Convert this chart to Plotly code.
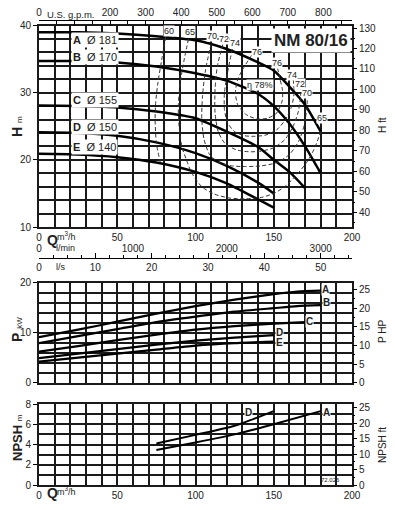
import plotly.graph_objects as go

# ---------------- data ----------------
# Head curves (Q in m3/h, H in m)
Q_AB = [0, 25, 50, 75, 100, 120, 140, 150, 160, 170, 180]
H_A = [39.0, 39.0, 38.8, 38.4, 37.8, 36.5, 34.5, 33.3, 30.9, 28.2, 24.2]
H_B = [34.7, 34.7, 34.5, 33.9, 32.9, 31.8, 29.8, 28.0, 25.4, 22.0, 18.0]
Q_C = [0, 25, 50, 75, 100, 120, 140, 150, 160, 170]
H_C = [28.1, 28.0, 27.8, 27.2, 26.2, 24.2, 21.9, 20.0, 18.2, 15.8]
Q_DE = [0, 25, 50, 75, 100, 120, 140, 150]
H_D = [24.1, 24.0, 23.6, 22.6, 21.0, 19.1, 16.6, 15.0]
H_E = [20.9, 20.8, 20.4, 19.6, 18.2, 16.5, 14.1, 12.9]

IMPELLERS = ["A", "B", "C", "D", "E"]
DIAMETERS = ["181", "170", "155", "150", "140"]

# Efficiency iso-lines (Q m3/h, H m)
ETA60_Q = [81, 78.5, 76, 74.5, 74.2, 75, 77.5]
ETA60_H = [38.3, 35, 31.5, 28.4, 25.9, 22.5, 19.6]
ETA65_Q = [95.5, 92, 90, 89, 89.5, 91.3, 94.5, 97.7, 104, 112, 122, 132, 142, 150, 157, 164, 171, 176, 180]
ETA65_H = [38.0, 34, 31, 28, 25, 22, 19.8, 18.0, 16.0, 14.9, 14.3, 14.2, 14.4, 15.0, 16.0, 17.6, 19.6, 21.7, 24.2]
ETA70_Q = [110, 106.5, 104.5, 104, 105.5, 109, 115, 123, 132, 142, 152, 160, 166, 169.5, 171, 171.5]
ETA70_H = [37.3, 33.5, 29.6, 26, 23, 20.8, 19.6, 19.1, 19.0, 19.1, 19.6, 20.8, 22.8, 25.2, 27.5, 29.2]
ETA72_Q = [117.5, 114, 112.5, 112.5, 114.5, 119, 126, 134, 142, 150, 157, 162, 165.5, 167, 167.5]
ETA72_H = [37.2, 34, 30.5, 27, 24.2, 22.4, 21.5, 21.2, 21.3, 21.8, 23, 24.8, 27, 29, 30.6]
ETA74_Q = [123.5, 120.5, 118.5, 118.5, 120.5, 125, 131, 138, 145, 152, 157.5, 161.5, 163, 162.5]
ETA74_H = [36.5, 33, 30, 27.5, 25.5, 24.2, 23.6, 23.5, 23.7, 24.5, 26, 28, 30, 31.9]
ETA76_Q = [136, 131, 127, 125.5, 127, 132, 139, 146, 152, 155.5, 155.5, 154, 152.5]
ETA76_H = [35.6, 33.8, 32, 30, 28.2, 26.8, 26.1, 26.2, 27, 28.9, 30.5, 32, 33.6]
ETA78_Q = [139.5, 139.5]
ETA78_H = [30.6, 29.2]

# Power curves (kW)
Q_P_AB = [0, 25, 50, 75, 100, 125, 150, 165, 180]
P_A = [9.1, 10.6, 12.2, 13.8, 15.3, 16.6, 17.7, 18.2, 18.4]
P_B = [7.9, 9.3, 10.7, 12.1, 13.2, 14.2, 14.9, 15.3, 15.5]
Q_P_C = [0, 25, 50, 75, 100, 125, 150, 170]
P_C = [6.2, 7.3, 8.5, 9.6, 10.6, 11.3, 11.8, 12.1]
Q_P_DE = [0, 25, 50, 75, 100, 125, 150]
P_D = [4.9, 5.8, 6.7, 7.6, 8.4, 9.0, 9.5]
P_E = [4.2, 5.0, 5.8, 6.6, 7.4, 7.9, 8.2]

# NPSH curves (m)
Q_N_A = [75, 100, 125, 150, 180]
N_A = [3.45, 4.2, 5.0, 6.0, 7.3]
Q_N_D = [75, 100, 125, 150]
N_D = [4.1, 4.95, 5.85, 7.3]

# unit conversions
M_TO_FT = 3.28084
KW_TO_HP = 1.34102
M3H_TO_GPM = 4.402868
M3H_TO_LMIN = 1000 / 60
M3H_TO_LS = 1 / 3.6
Q_MAX = 200

# ---------------- figure ----------------
FONT = "Liberation Sans, Arial, sans-serif"
TXT = "#222"
XDOM = [39 / 395, 352 / 395]


def py(p):
    return 1 - p / 510


fig = go.Figure()

curve = dict(color="black", width=2.5, shape="spline", smoothing=0.6)
for q, h in [(Q_AB, H_A), (Q_AB, H_B), (Q_C, H_C), (Q_DE, H_D), (Q_DE, H_E)]:
    fig.add_trace(go.Scatter(x=q, y=h, mode="lines", line=curve, xaxis="x", yaxis="y",
                             showlegend=False, hoverinfo="skip"))

eff = dict(color="#333", width=1, dash="4px,2.5px", shape="spline", smoothing=0.7)
for q, h in [(ETA60_Q, ETA60_H), (ETA65_Q, ETA65_H), (ETA70_Q, ETA70_H), (ETA72_Q, ETA72_H),
             (ETA74_Q, ETA74_H), (ETA76_Q, ETA76_H), (ETA78_Q, ETA78_H)]:
    fig.add_trace(go.Scatter(x=q, y=h, mode="lines", line=eff, xaxis="x", yaxis="y",
                             showlegend=False, hoverinfo="skip"))

pcurve = dict(color="black", width=2.2, shape="spline", smoothing=0.6)
for q, p in [(Q_P_AB, P_A), (Q_P_AB, P_B), (Q_P_C, P_C), (Q_P_DE, P_D), (Q_P_DE, P_E)]:
    fig.add_trace(go.Scatter(x=q, y=p, mode="lines", line=pcurve, xaxis="x5", yaxis="y3",
                             showlegend=False, hoverinfo="skip"))

ncurve = dict(color="black", width=2, shape="spline", smoothing=0.6)
for q, n in [(Q_N_A, N_A), (Q_N_D, N_D)]:
    fig.add_trace(go.Scatter(x=q, y=n, mode="lines", line=ncurve, xaxis="x6", yaxis="y5",
                             showlegend=False, hoverinfo="skip"))

# invisible companions so that secondary unit axes are drawn
ghost = dict(mode="lines", line=dict(width=0), opacity=0, showlegend=False, hoverinfo="skip")
fig.add_trace(go.Scatter(x=Q_AB, y=[h * M_TO_FT for h in H_A], xaxis="x", yaxis="y2", **ghost))
fig.add_trace(go.Scatter(x=[q * M3H_TO_GPM for q in Q_AB], y=H_A, xaxis="x2", yaxis="y", **ghost))
fig.add_trace(go.Scatter(x=[q * M3H_TO_LMIN for q in Q_AB], y=H_A, xaxis="x3", yaxis="y", **ghost))
fig.add_trace(go.Scatter(x=[q * M3H_TO_LS for q in Q_AB], y=H_A, xaxis="x4", yaxis="y", **ghost))
fig.add_trace(go.Scatter(x=Q_P_AB, y=[p * KW_TO_HP for p in P_A], xaxis="x5", yaxis="y4", **ghost))
fig.add_trace(go.Scatter(x=Q_N_A, y=[n * M_TO_FT for n in N_A], xaxis="x6", yaxis="y6", **ghost))

tickfont = dict(family=FONT, size=10, color=TXT)
grid = dict(showgrid=True, gridcolor="#1a1a1a", gridwidth=2)
frame = dict(showline=True, mirror=True, linecolor="#1a1a1a", linewidth=2, zeroline=False)

qvals = [0, 50, 100, 150, 200]


def qaxis(domain_anchor, labels):
    return dict(domain=XDOM, anchor=domain_anchor, range=[0, Q_MAX], tickvals=qvals,
                ticktext=[str(v) for v in qvals], showticklabels=labels, ticks="",
                automargin=False, tickfont=tickfont,
                minor=dict(dtick=10, tick0=0, **grid), **grid, **frame)


def yaxis_left(domain, rng, vals, minor_dtick, anchor):
    return dict(domain=domain, anchor=anchor, range=rng, tickvals=vals, automargin=False,
                ticktext=[str(v) for v in vals], ticks="outside", ticklen=4, tickcolor="black",
                tickfont=tickfont, minor=dict(dtick=minor_dtick, tick0=0, **grid), **grid, **frame)


def yaxis_right(over, anchor, rng, vals, minor_dtick):
    return dict(overlaying=over, anchor=anchor, side="right", range=rng, tickvals=vals,
                ticktext=[str(v) for v in vals], ticks="outside", ticklen=4, tickcolor="black",
                tickwidth=1, showgrid=False, zeroline=False, showline=False, tickfont=tickfont,
                automargin=False,
                minor=dict(dtick=minor_dtick, tick0=0, ticks="outside", ticklen=2,
                           tickcolor="black", showgrid=False))


gpm_vals = [0, 100, 200, 300, 400, 500, 600, 700, 800]
lmin_vals = [0, 1000, 2000, 3000]
ls_vals = [0, 10, 20, 30, 40, 50]

fig.update_layout(
    width=395, height=510, margin=dict(l=0, r=0, t=0, b=0, pad=0, autoexpand=False),
    paper_bgcolor="white", plot_bgcolor="white", showlegend=False,
    xaxis=qaxis("y", True),
    yaxis=yaxis_left([py(227), py(25.5)], [10, 40], [10, 20, 30, 40], 2, "x"),
    yaxis2=yaxis_right("y", "x", [10 * M_TO_FT, 40 * M_TO_FT], list(range(40, 131, 10)), 5),
    xaxis2=dict(overlaying="x", anchor="free", position=py(20), side="top",
                range=[0, Q_MAX * M3H_TO_GPM], tickvals=gpm_vals, automargin=False,
                ticktext=["0" if v == 0 else ("" if v == 100 else str(v)) for v in gpm_vals],
                ticks="inside", ticklen=5, tickcolor="black", showline=True, linecolor="black",
                linewidth=1, showgrid=False, zeroline=False, tickfont=tickfont,
                minor=dict(dtick=50, tick0=0, ticks="inside", ticklen=3, tickcolor="black",
                           showgrid=False)),
    xaxis3=dict(overlaying="x", anchor="free", position=py(241), side="bottom",
                range=[0, Q_MAX * M3H_TO_LMIN], tickvals=lmin_vals, automargin=False,
                ticktext=[str(v) for v in lmin_vals], ticks="", showline=False,
                showgrid=False, zeroline=False, tickfont=tickfont),
    xaxis4=dict(overlaying="x", anchor="free", position=py(258), side="bottom",
                range=[0, Q_MAX * M3H_TO_LS], tickvals=ls_vals, automargin=False,
                ticktext=[str(v) for v in ls_vals], ticks="inside", ticklen=5,
                tickcolor="black", showline=True, linecolor="black", linewidth=1,
                showgrid=False, zeroline=False, tickfont=tickfont,
                minor=dict(dtick=2.5, tick0=0, ticks="inside", ticklen=3, tickcolor="black",
                           showgrid=False)),
    xaxis5=qaxis("y3", False),
    yaxis3=yaxis_left([py(382.7), py(282.7)], [0, 20], [0, 10, 20], 2, "x5"),
    yaxis4=yaxis_right("y3", "x5", [0, 20 * KW_TO_HP], [0, 5, 10, 15, 20, 25], 2.5),
    xaxis6=qaxis("y5", True),
    yaxis5=yaxis_left([py(485), py(404)], [0, 8], [0, 2, 4, 6, 8], 1, "x6"),
    yaxis6=yaxis_right("y5", "x6", [0, 8 * M_TO_FT], [0, 5, 10, 15, 20, 25], 2.5),
)

ann = []


def text(x, y, s, size=10, xref="paper", yref="paper", bg=None, angle=0, xanchor="center",
         bold=False, pad=0):
    d = dict(x=x, y=y, xref=xref, yref=yref, text=f"<b>{s}</b>" if bold else s, showarrow=False,
             font=dict(family=FONT, size=size, color=TXT), xanchor=xanchor, yanchor="middle",
             textangle=angle, borderpad=pad)
    if bg:
        d["bgcolor"] = bg
    ann.append(d)


# unit captions
text(46 / 395, py(14), "U.S. g.p.m.", 9.5, xanchor="left")
text(46 / 395, py(240), "<b>Q</b>", 14, xanchor="left")
text(56 / 395, py(236), "m<sup>3</sup>/h", 9, xanchor="left")
text(55 / 395, py(248), "l/min", 9, xanchor="left")
text(55 / 395, py(267), "l/s", 9, xanchor="left")
text(46 / 395, py(493), "<b>Q</b>", 14, xanchor="left")
text(56 / 395, py(491), "m<sup>3</sup>/h", 9, xanchor="left")
text(330 / 395, py(480), "72.026", 6)

# axis titles
text(17 / 395, py(127), "<b>H</b> <span style='font-size:8px'>m</span>", 14, angle=-90)
text(382 / 395, py(125), "H ft", 10, angle=-90)
text(17 / 395, py(330), "<b>P</b> <span style='font-size:8px'>kW</span>", 14, angle=-90)
text(382 / 395, py(332), "P HP", 10, angle=-90)
text(17 / 395, py(438), "<b>NPSH</b> <span style='font-size:8px'>m</span>", 13, angle=-90)
text(382 / 395, py(445), "NPSH ft", 10, angle=-90)

# model name
text(174, 37.8, "NM 80/16", 17, xref="x", yref="y", bg="white", bold=True, pad=2)

# impeller labels on H curves
lab_y = [37.9, 35.25, 28.86, 24.85, 21.88]
for name, dia, yv in zip(IMPELLERS, DIAMETERS, lab_y):
    text(35.5, yv, f"<b>{name}</b>  Ø {dia}", 11, xref="x", yref="y", bg="white", pad=1)

# efficiency labels
for s, q, h in [("60", 83.3, 39.2), ("65", 96.6, 39.0), ("70", 110.5, 38.4), ("72", 117.9, 38.0),
                ("74", 125.4, 37.4), ("76", 139.2, 36.1), ("76", 152, 34.4), ("74", 161.6, 32.7),
                ("72", 167, 31.3), ("70", 171.2, 30.0), ("65", 181, 26.3)]:
    text(q, h, s, 9, xref="x", yref="y", bg="white")
text(141, 31.1, "η 78%", 9, xref="x", yref="y", bg="white")

# power labels
for s, q, p in [("A", 183, 18.6), ("B", 183.5, 16.0), ("C", 173, 12.3), ("D", 153.7, 10.1),
                ("E", 153.7, 8.0)]:
    text(q, p, s, 10, xref="x5", yref="y3", bg="white", bold=True)

# NPSH labels
for s, q, n in [("D", 133.9, 7.2), ("A", 184, 7.2)]:
    text(q, n, s, 10, xref="x6", yref="y5", bg="white", bold=True)

fig.update_layout(annotations=ann)
fig.write_html("out.html",
               config={"displayModeBar": False, "staticPlot": True},
               post_script="document.body.style.margin='0';document.body.style.padding='0';")
